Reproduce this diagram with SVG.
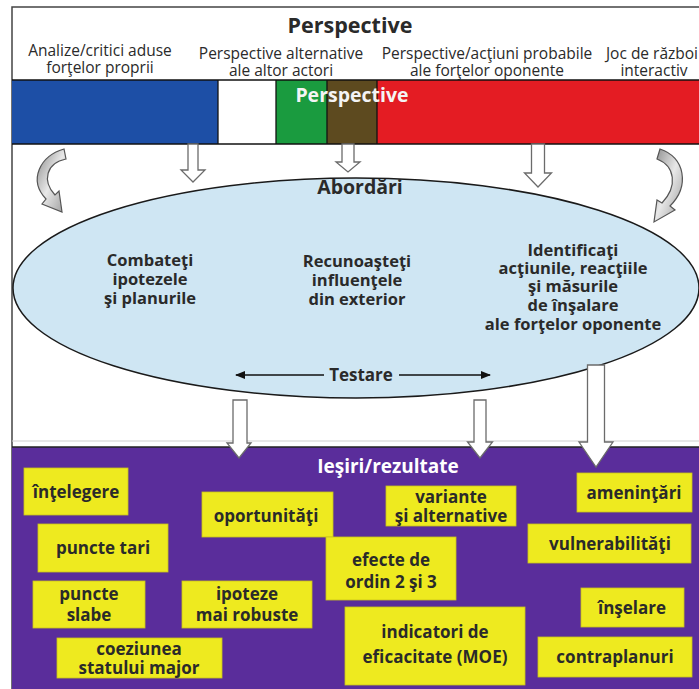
<svg xmlns="http://www.w3.org/2000/svg" width="699" height="689" viewBox="0 0 699 689">
<defs>
<style>
.t{font-family:"Open Sans","Liberation Sans",sans-serif;fill:#2a2a2a;text-anchor:middle}
.sub{font-size:15.5px}
.b{font-weight:bold}
.el{font-size:16.5px;font-weight:bold}
.box{fill:#eeea1f;stroke:#c9c41a;stroke-width:0.8}
.bl{font-family:"Open Sans","Liberation Sans",sans-serif;font-size:17px;font-weight:bold;fill:#2a2a2a;text-anchor:middle}
.harrow{fill:#fff;stroke:#6b6b6b;stroke-width:1.3}
.curv{fill:url(#g);stroke:#555;stroke-width:1.2}
</style>
<linearGradient id="g" x1="0" y1="0" x2="1" y2="1">
<stop offset="0" stop-color="#8a8a8a"/>
<stop offset="0.5" stop-color="#e8e8e8"/>
<stop offset="1" stop-color="#9a9a9a"/>
</linearGradient>
<marker id="ah" viewBox="0 0 10 10" refX="9" refY="5" markerWidth="7" markerHeight="7" orient="auto-start-reverse">
<path d="M0,1 L10,5 L0,9 Z" fill="#111"/>
</marker>
</defs>
<rect width="699" height="689" fill="#fff"/>
<rect x="12" y="7" width="700" height="690" fill="#fff" stroke="#444" stroke-width="1.5"/>
<g id="header">
<text class="t b" x="350" y="33" font-size="21.5">Perspective</text>
<text class="t sub" x="100" y="56">Analize/critici aduse</text>
<text class="t sub" x="100" y="73">forţelor proprii</text>
<text class="t sub" x="281" y="59">Perspective alternative</text>
<text class="t sub" x="281" y="76">ale altor actori</text>
<text class="t sub" x="487" y="59">Perspective/acţiuni probabile</text>
<text class="t sub" x="487" y="76">ale forţelor oponente</text>
<text class="t sub" x="652" y="59">Joc de război</text>
<text class="t sub" x="654" y="76">interactiv</text>
</g>
<g id="bar">
<rect x="12" y="80" width="206" height="64" fill="#1d4fa6"/>
<rect x="218" y="80" width="58" height="64" fill="#fff"/>
<rect x="276" y="80" width="51" height="64" fill="#1a9b3f"/>
<rect x="327" y="80" width="50" height="64" fill="#5d4a1f"/>
<rect x="377" y="80" width="330" height="64" fill="#e41c23"/>
<g stroke="#111" stroke-width="1.3">
<line x1="12" y1="80" x2="699" y2="80"/>
<line x1="12" y1="144" x2="699" y2="144"/>
<line x1="218" y1="80" x2="218" y2="144"/>
<line x1="276" y1="80" x2="276" y2="144"/>
<line x1="327" y1="80" x2="327" y2="144"/>
<line x1="377" y1="80" x2="377" y2="144"/>
</g>
<text x="352" y="102" font-family="'Open Sans','Liberation Sans',sans-serif" font-size="19.5" font-weight="bold" fill="#f4f4f4" text-anchor="middle">Perspective</text>
</g>
<line x1="12" y1="441" x2="699" y2="441" stroke="#cfcfcf" stroke-width="1"/>
<g id="abordari">
<ellipse cx="356" cy="288" rx="343" ry="110" fill="#cfe6f3" stroke="#1a1a1a" stroke-width="1.5"/>
<text class="t b" x="360" y="194" font-size="19.5">Abordări</text>
<text class="t el" x="150" y="266">Combateţi</text>
<text class="t el" x="150" y="285">ipotezele</text>
<text class="t el" x="150" y="304">şi planurile</text>
<text class="t el" x="357" y="267">Recunoaşteţi</text>
<text class="t el" x="357" y="286">influenţele</text>
<text class="t el" x="357" y="305">din exterior</text>
<text class="t el" x="573" y="256">Identificaţi</text>
<text class="t el" x="573" y="274">acţiunile, reacţiile</text>
<text class="t el" x="573" y="292">şi măsurile</text>
<text class="t el" x="573" y="311">de înşalare</text>
<text class="t el" x="573" y="330">ale forţelor oponente</text>
<text class="t b" x="361" y="381" font-size="17">Testare</text>
</g>
<g id="purple">
<rect x="12" y="447" width="700" height="250" fill="#5a2d9b"/>
<line x1="12" y1="447" x2="699" y2="447" stroke="#222" stroke-width="1.5"/>
<text x="388" y="473" font-family="'Open Sans','Liberation Sans',sans-serif" font-size="19" font-weight="bold" fill="#fff" text-anchor="middle">Ieşiri/rezultate</text>
</g>
<g id="connectors">
<polygon class="harrow" points="188,144 198,144 198,170 205,170 193,182 181,170 188,170"/>
<polygon class="harrow" points="342,144 354,144 354,162 360,162 348,172 336,162 342,162"/>
<polygon class="harrow" points="531.5,144 544.5,144 544.5,173 551.5,173 538,187 524.5,173 531.5,173"/>
<polygon class="harrow" points="233,400 247,400 247,443 251,443 239,458 227,443 233,443"/>
<polygon class="harrow" points="474,400 486,400 486,442 492.5,442 480,458 467.5,442 474,442"/>
<polygon class="harrow" points="587.5,365 604.5,365 604.5,442 613,442 596,467 579,442 587.5,442"/>
<path class="curv" d="M 64 149 C 40 156, 28 180, 46 199 L 42 204 L 62 212 L 59 191 L 55 195 C 42 181, 46 163, 66 159 Z"/>
<path class="curv" d="M 660 149 C 685 157, 690 186, 670 206 L 675 210 L 654 222 L 657 200 L 662 203 C 678 186, 675 166, 657 159 Z"/>
<line x1="324" y1="375" x2="236" y2="375" stroke="#111" stroke-width="1.5" marker-end="url(#ah)"/>
<line x1="399" y1="375" x2="490" y2="375" stroke="#111" stroke-width="1.5" marker-end="url(#ah)"/>
</g>
<g id="n-intelegere"><rect class="box" x="24" y="468" width="104" height="47"/><text class="bl" x="76" y="498">înţelegere</text></g>
<g id="n-puncte-tari"><rect class="box" x="38" y="524" width="130" height="48"/><text class="bl" x="103" y="554">puncte tari</text></g>
<g id="n-puncte-slabe"><rect class="box" x="33" y="581" width="112" height="47"/><text class="bl" x="89" y="600">puncte</text><text class="bl" x="89" y="621">slabe</text></g>
<g id="n-ipoteze"><rect class="box" x="182" y="581" width="130" height="47"/><text class="bl" x="247" y="600">ipoteze</text><text class="bl" x="247" y="621">mai robuste</text></g>
<g id="n-coeziunea"><rect class="box" x="57" y="638" width="165" height="40"/><text class="bl" x="139" y="655">coeziunea</text><text class="bl" x="139" y="674">statului major</text></g>
<g id="n-oportunitati"><rect class="box" x="202" y="492" width="131" height="45"/><text class="bl" x="266" y="522">oportunităţi</text></g>
<g id="n-efecte"><rect class="box" x="326" y="537" width="130" height="63"/><text class="bl" x="391" y="566">efecte de</text><text class="bl" x="391" y="588">ordin 2 şi 3</text></g>
<g id="n-variante"><rect class="box" x="386" y="486" width="130" height="40"/><text class="bl" x="451" y="503">variante</text><text class="bl" x="451" y="522">şi alternative</text></g>
<g id="n-indicatori"><rect class="box" x="345" y="607" width="180" height="78"/><text class="bl" x="435" y="638">indicatori de</text><text class="bl" x="435" y="663">eficacitate (MOE)</text></g>
<g id="n-amenintari"><rect class="box" x="577" y="473" width="115" height="39"/><text class="bl" x="634" y="499">ameninţări</text></g>
<g id="n-vulnerabilitati"><rect class="box" x="528" y="524" width="163" height="39"/><text class="bl" x="610" y="550">vulnerabilităţi</text></g>
<g id="n-inselare"><rect class="box" x="581" y="588" width="103" height="39"/><text class="bl" x="632" y="614">înşelare</text></g>
<g id="n-contraplanuri"><rect class="box" x="538" y="637" width="154" height="40"/><text class="bl" x="615" y="663">contraplanuri</text></g>
</svg>
